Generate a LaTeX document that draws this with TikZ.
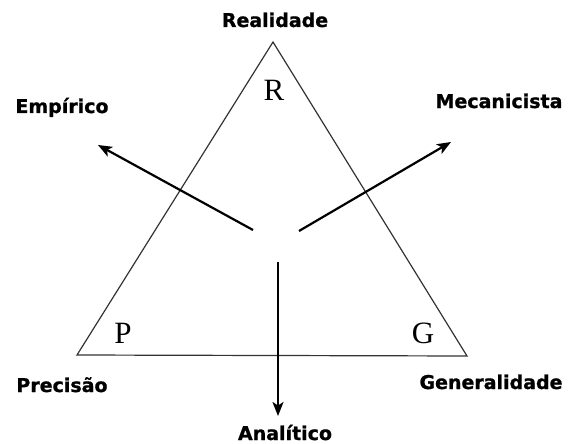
\documentclass[tikz,border=0pt]{standalone}
\usepackage{fontspec}
\setmainfont{Liberation Serif}
\newfontfamily\lblfont{DejaVu Sans}[BoldFeatures={FakeBold=1}]
\usetikzlibrary{arrows.meta}
\begin{document}
\begin{tikzpicture}[x=1pt,y=-1pt,
  tri/.style={draw=black!80,line width=1.2pt,line join=miter},
  arr/.style={draw=black,line width=2.2pt,-{Stealth[length=14pt,width=11pt,inset=3.5pt]}},
  lbl/.style={font=\lblfont\bfseries\fontsize{19}{19}\selectfont,anchor=base,inner sep=0pt},
  corner/.style={font=\fontsize{31}{31}\selectfont,anchor=base,inner sep=0pt}]
\useasboundingbox (0,0) rectangle (568,444);
\coordinate (top) at (273,42);
\coordinate (pl) at (77,355);
\coordinate (pr) at (467,356);
\draw[tri] (top) -- (pl) -- (pr) -- cycle;
\coordinate (s1) at (253,230);
\coordinate (e1) at (98,145);
\coordinate (s2) at (299,231);
\coordinate (e2) at (451,142);
\coordinate (s3) at (278,262);
\coordinate (e3) at (278,416);
\draw[arr] (s1) -- (e1);
\draw[arr] (s2) -- (e2);
\draw[arr] (s3) -- (e3);
\node[lbl] (real) at (275,27) {Realidade};
\node[lbl] (emp) at (62,113) {Empírico};
\node[lbl] (mec) at (499,108) {Mecanicista};
\node[lbl] (pre) at (62,392) {Precisão};
\node[lbl] (gen) at (491,389) {Generalidade};
\node[lbl] (ana) at (285,440) {Analítico};
\node[corner] (R) at (274,100) {R};
\node[corner] (P) at (123,343) {P};
\node[corner] (G) at (423,343) {G};
\end{tikzpicture}
\end{document}
